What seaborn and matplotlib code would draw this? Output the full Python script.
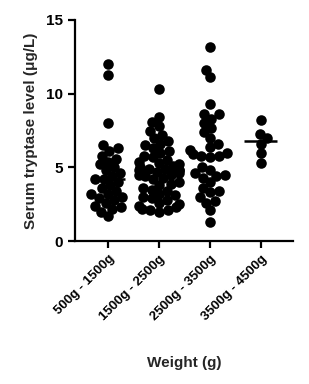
import matplotlib
matplotlib.use("Agg")
import matplotlib.pyplot as plt
import seaborn as sns
import pandas as pd

categories = ["500g - 1500g", "1500g - 2500g", "2500g - 3500g", "3500g - 4500g"]

g1 = [12.0, 11.3, 8.0, 6.5, 6.3, 6.1, 5.8, 5.6, 5.4, 5.2, 5.0, 4.8, 4.6, 4.4, 4.2,
      4.2, 4.0, 3.8, 3.6, 3.4, 3.2, 3.2, 3.0, 2.9, 2.8, 2.6, 2.4, 2.3, 2.2, 2.0, 1.7]
g2 = [10.3, 8.4, 8.1, 7.8, 7.5, 7.2, 7.0, 6.8, 6.6, 6.5, 6.3, 6.1, 6.0, 5.8, 5.7,
      5.5, 5.4, 5.3, 5.2, 5.1, 5.0, 4.9, 4.9, 4.8, 4.8, 4.8, 4.7, 4.6, 4.5, 4.5, 4.4,
      4.3, 4.2, 4.0, 3.9, 3.8, 3.6, 3.5, 3.4, 3.2, 3.1, 3.0, 2.9, 2.8, 2.6, 2.5, 2.4,
      2.3, 2.2, 2.1, 2.1, 2.0]
g3 = [13.2, 11.6, 11.1, 9.3, 8.6, 8.6, 8.3, 8.0, 7.7, 7.4, 7.0, 6.6, 6.4, 6.2, 6.0,
      5.9, 5.8, 5.8, 5.7, 5.0, 4.8, 4.6, 4.5, 4.4, 4.3, 4.0, 3.6, 3.4, 3.3, 3.0, 2.7,
      2.6, 2.1, 1.3]
g4 = [8.2, 7.3, 7.0, 6.6, 6.0, 5.3]

groups = [g1, g2, g3, g4]
df = pd.DataFrame({
    "weight": [c for c, g in zip(categories, groups) for _ in g],
    "tryptase": [v for g in groups for v in g],
})

sns.set_style("ticks")
plt.rcParams["font.family"] = ["Liberation Sans", "DejaVu Sans"]
plt.rcParams["font.weight"] = "bold"

fig = plt.figure(figsize=(3.09, 3.84), dpi=100)
ax = fig.add_axes([0.243, 0.372, 0.705, 0.576])

ax.set_ylim(0, 15)
ax.set_xlim(-0.65, 3.63)
sns.swarmplot(data=df, x="weight", y="tryptase", order=categories, color="black",
              size=6.0, ax=ax, zorder=3)
ax.set_ylim(0, 15)
ax.set_xlim(-0.65, 3.63)
# fix swarm placement, then enlarge dots so they overlap like the original
fig.canvas.draw()
for coll in ax.collections:
    if "draw" in coll.__dict__:
        del coll.__dict__["draw"]
    coll.set_sizes([7.6 ** 2])

sns.boxplot(data=df, x="weight", y="tryptase", order=categories, width=0.65,
            showbox=False, showcaps=False, showfliers=False,
            whiskerprops={"visible": False},
            medianprops={"color": "black", "linewidth": 1.8},
            ax=ax, zorder=4)

ax.set_ylim(0, 15)
ax.set_yticks([0, 5, 10, 15])
ax.set_xlim(-0.65, 3.63)
for s in ["top", "right"]:
    ax.spines[s].set_visible(False)
for s in ["left", "bottom"]:
    ax.spines[s].set_linewidth(1.6)
    ax.spines[s].set_color("black")
ax.tick_params(axis="both", direction="out", length=5, width=1.6, colors="black")
ax.tick_params(axis="y", labelsize=11)
ax.tick_params(axis="x", labelsize=9.5)
plt.setp(ax.get_yticklabels(), fontweight="bold")
plt.setp(ax.get_xticklabels(), fontweight="bold", rotation=45, ha="right",
         rotation_mode="anchor")
ax.set_ylabel("Serum tryptase level (μg/L)", fontsize=11, fontweight="bold", labelpad=6)
ax.set_xlabel("Weight (g)", fontsize=11, fontweight="bold", labelpad=24)

fig.savefig("out.png", dpi=100)
